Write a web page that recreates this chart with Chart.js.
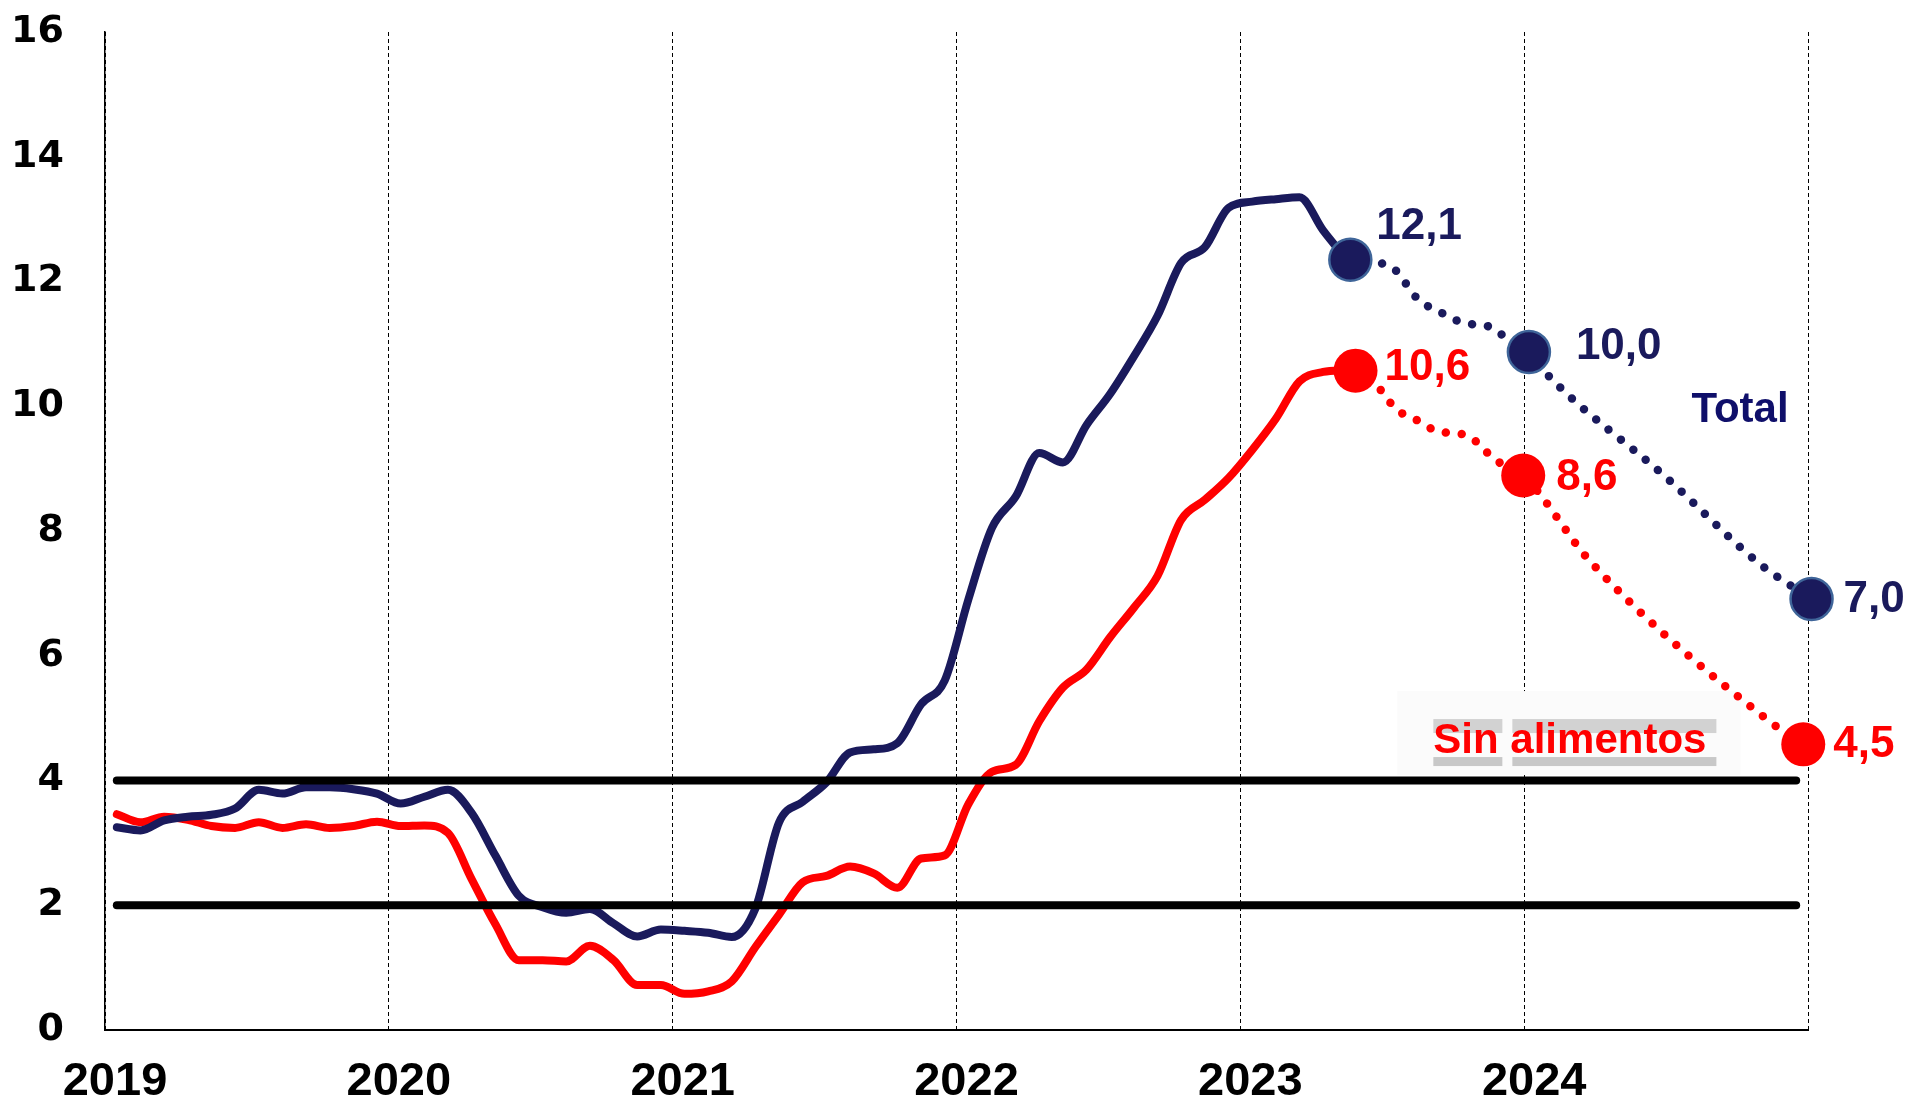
<!DOCTYPE html>
<html>
<head>
<meta charset="utf-8">
<script src="https://cdn.jsdelivr.net/npm/chart.js@4.4.0/dist/chart.umd.min.js"></script>
<style>
html,body{margin:0;padding:0;background:#ffffff;}
canvas{display:block;}
</style>
</head>
<body>
<canvas id="c" width="1915" height="1107"></canvas>
<script>
// ---------- DATA ----------
const yearLabels = ['2019', '2020', '2021', '2022', '2023', '2024'];

// months since January 2019 (mid-month positions)
const months = [0.5, 1.5, 2.5, 3.5, 4.5, 5.5, 6.5, 7.5, 8.5, 9.5, 10.5, 11.5,
  12.5, 13.5, 14.5, 15.5, 16.5, 17.5, 18.5, 19.5, 20.5, 21.5, 22.5, 23.5,
  24.5, 25.5, 26.5, 27.5, 28.5, 29.5, 30.5, 31.5, 32.5, 33.5, 34.5, 35.5,
  36.5, 37.5, 38.5, 39.5, 40.5, 41.5, 42.5, 43.5, 44.5, 45.5, 46.5, 47.5,
  48.5, 49.5, 50.5, 51.5, 52.5];

const totalValues = [3.25, 3.20, 3.36, 3.42, 3.45, 3.55, 3.85, 3.79, 3.89, 3.89, 3.86, 3.79,
  3.63, 3.74, 3.85, 3.48, 2.80, 2.15, 1.97, 1.88, 1.94, 1.71, 1.50, 1.61,
  1.59, 1.56, 1.49, 1.95, 3.33, 3.66, 3.97, 4.45, 4.50, 4.60, 5.22, 5.60,
  6.90, 8.05, 8.55, 9.25, 9.10, 9.70, 10.20, 10.80, 11.45, 12.30, 12.55, 13.18,
  13.28, 13.32, 13.35, 12.82, 12.35];

const sinAlimentosValues = [3.46, 3.33, 3.42, 3.37, 3.27, 3.24, 3.33, 3.24, 3.30, 3.24, 3.27, 3.34,
  3.27, 3.28, 3.16, 2.42, 1.70, 1.12, 1.12, 1.10, 1.35, 1.12, 0.72, 0.72,
  0.58, 0.62, 0.78, 1.33, 1.85, 2.37, 2.47, 2.62, 2.51, 2.28, 2.75, 2.80,
  3.62, 4.14, 4.25, 4.95, 5.49, 5.78, 6.30, 6.77, 7.28, 8.18, 8.50, 8.85,
  9.30, 9.80, 10.40, 10.55, 10.58];

// projections (dotted)
const totalProjMonths = [52.65, 53.5, 54.5, 55.5, 56.5, 57.5, 58.5, 59.5, 60.2, 61, 66, 70, 72.15];
const totalProjValues = [12.35, 12.32, 12.20, 11.72, 11.50, 11.33, 11.28, 11.02, 10.87, 10.50, 8.86, 7.46, 6.91];
const sinProjMonths = [52.87, 53.7, 54.6, 55.5, 56.4, 57.05, 57.7, 58.2, 58.7, 59.96, 62.8, 70.4, 71.8];
const sinProjValues = [10.57, 10.36, 9.95, 9.77, 9.59, 9.57, 9.51, 9.35, 9.16, 8.89, 7.51, 4.94, 4.58];

// highlighted points and their labels
const totalMarkMonths = [52.65, 60.2, 72.15];
const totalMarkValues = [12.35, 10.87, 6.91];
const totalMarkLabels = ['12,1', '10,0', '7,0'];
const sinMarkMonths = [52.87, 59.96, 71.8];
const sinMarkValues = [10.57, 8.89, 4.58];
const sinMarkLabels = ['10,6', '8,6', '4,5'];

// target range lines
const targetMonths = [0.5, 71.5];
const targetUpper = [4, 4];
const targetLower = [2, 2];

const seriesNames = ['Total', 'Sin alimentos'];

// ---------- STYLE ----------
const NAVY = '#1a1a5c';
const NAVY_TEXT = '#0f0f6a';
const RED = '#ff0000';
const FONT = '"Liberation Sans", Arial, sans-serif';

const pts = (xs, ys) => xs.map((x, i) => ({x: x, y: ys[i]}));

// label offsets (pixels) relative to each marker
const totalLabelOffsets = [[26, -33], [47, -5], [32, 1]];
const sinLabelOffsets = [[29, -3], [33, 2], [30, 1]];

const annotPlugin = {
  id: 'annot',
  beforeDatasetsDraw(chart) {
    const {ctx, scales: {x, y}} = chart;
    ctx.save();
    ctx.font = 'bold 42px ' + FONT;
    const L = x.getPixelForValue(56.16);
    const B = y.getPixelForValue(4.44);
    const W = ctx.measureText(seriesNames[1]).width;
    const wSin = ctx.measureText('Sin ').width;
    // faint halo
    ctx.fillStyle = '#fbfbfb';
    ctx.fillRect(L - 36, B - 62, W + 70, 84);
    // gray blocks
    ctx.fillStyle = '#d2d2d2';
    ctx.fillRect(L, B - 34, wSin - 8, 14);
    ctx.fillRect(L + wSin + 2, B - 34, W - wSin + 8, 14);
    ctx.fillStyle = '#c8c8c8';
    ctx.fillRect(L, B + 4, wSin - 8, 9);
    ctx.fillRect(L + wSin + 2, B + 4, W - wSin + 8, 9);
    ctx.restore();
  },
  afterDatasetsDraw(chart) {
    const {ctx, scales: {x, y}} = chart;
    ctx.save();
    ctx.textBaseline = 'middle';
    ctx.textAlign = 'left';
    ctx.font = 'bold 44px ' + FONT;
    ctx.fillStyle = NAVY;
    totalMarkLabels.forEach((t, i) => {
      const px = x.getPixelForValue(totalMarkMonths[i]);
      const py = y.getPixelForValue(totalMarkValues[i]);
      ctx.fillText(t, px + totalLabelOffsets[i][0], py + totalLabelOffsets[i][1]);
    });
    ctx.fillStyle = RED;
    sinMarkLabels.forEach((t, i) => {
      const px = x.getPixelForValue(sinMarkMonths[i]);
      const py = y.getPixelForValue(sinMarkValues[i]);
      ctx.fillText(t, px + sinLabelOffsets[i][0], py + sinLabelOffsets[i][1]);
    });
    ctx.textBaseline = 'alphabetic';
    ctx.font = 'bold 42px ' + FONT;
    ctx.fillStyle = NAVY_TEXT;
    ctx.fillText(seriesNames[0], x.getPixelForValue(67.07), y.getPixelForValue(9.75));
    ctx.fillStyle = RED;
    ctx.fillText(seriesNames[1], x.getPixelForValue(56.16), y.getPixelForValue(4.44));
    ctx.restore();
  }
};

new Chart(document.getElementById('c'), {
  type: 'line',
  data: {
    datasets: [
      {label: 'Meta 4', data: pts(targetMonths, targetUpper), borderColor: '#000', borderWidth: 8,
        borderCapStyle: 'round', pointRadius: 0, order: 1},
      {label: 'Meta 2', data: pts(targetMonths, targetLower), borderColor: '#000', borderWidth: 8,
        borderCapStyle: 'round', pointRadius: 0, order: 1},
      {label: seriesNames[0], data: pts(months, totalValues), borderColor: NAVY, borderWidth: 8,
        pointRadius: 0, cubicInterpolationMode: 'monotone', borderCapStyle: 'round', borderJoinStyle: 'round', order: 2},
      {label: seriesNames[1], data: pts(months, sinAlimentosValues), borderColor: RED, borderWidth: 8,
        pointRadius: 0, cubicInterpolationMode: 'monotone', borderCapStyle: 'round', borderJoinStyle: 'round', order: 2},
      {label: 'Total proy.', data: pts(totalProjMonths, totalProjValues), borderColor: NAVY, borderWidth: 8.5,
        borderDash: [0.01, 16], borderCapStyle: 'round', pointRadius: 0, cubicInterpolationMode: 'monotone', order: 3, clip: false},
      {label: 'Sin alimentos proy.', data: pts(sinProjMonths, sinProjValues), borderColor: RED, borderWidth: 8.5,
        borderDash: [0.01, 16], borderCapStyle: 'round', pointRadius: 0, cubicInterpolationMode: 'monotone', order: 3, clip: false},
      {label: 'Total puntos', data: pts(totalMarkMonths, totalMarkValues), showLine: false, pointRadius: 21,
        pointBackgroundColor: NAVY, pointBorderColor: '#3f6599', pointBorderWidth: 2.5, order: 0, clip: false},
      {label: 'Sin alimentos puntos', data: pts(sinMarkMonths, sinMarkValues), showLine: false, pointRadius: 22,
        pointBackgroundColor: RED, pointBorderColor: RED, pointBorderWidth: 0, order: 0, clip: false}
    ]
  },
  options: {
    responsive: false,
    animation: false,
    devicePixelRatio: 1,
    layout: {autoPadding: false, padding: {top: 32, right: 107, left: 0, bottom: 0}},
    plugins: {legend: {display: false}, tooltip: {enabled: false}},
    scales: {
      x: {
        type: 'linear', min: 0, max: 72,
        ticks: {
          stepSize: 12, maxRotation: 0, autoSkip: false, padding: 24, labelOffset: 10,
          color: '#000', font: {family: FONT, weight: 'bold', size: 47},
          callback: (v) => (yearLabels[Math.round(v / 12)] !== undefined ? yearLabels[Math.round(v / 12)] : '')
        },
        grid: {display: true, color: '#000', lineWidth: 1, drawTicks: false},
        border: {display: true, color: '#000', width: 2, dash: [4, 3]},
        afterFit: (s) => { s.height = 77; s.paddingLeft = 0; s.paddingRight = 0; }
      },
      y: {
        min: 0, max: 16,
        ticks: {stepSize: 2, padding: 41, color: '#000', font: {family: '"DejaVu Sans", sans-serif', weight: 'bold', size: 38}},
        grid: {display: false, drawTicks: false},
        border: {display: true, color: '#000', width: 1.5},
        afterFit: (s) => { s.width = 105; s.paddingTop = 0; s.paddingBottom = 0; }
      }
    }
  },
  plugins: [annotPlugin]
});
</script>
</body>
</html>
